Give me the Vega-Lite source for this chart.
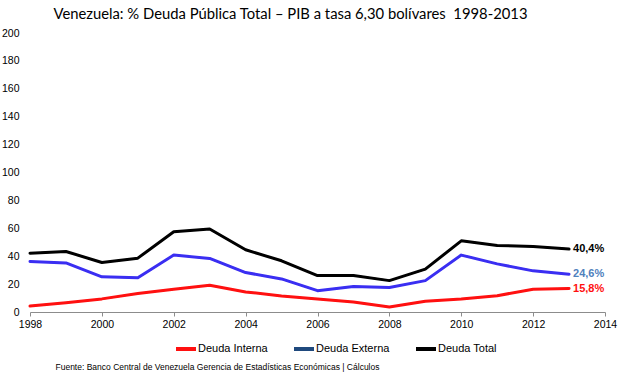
{
  "$schema": "https://vega.github.io/schema/vega-lite/v6.json",
  "autosize": "none",
  "width": 575,
  "height": 279,
  "padding": {"left": 30, "top": 33, "right": 24, "bottom": 66},
  "background": "white",
  "title": {
    "text": "Venezuela: % Deuda Pública Total – PIB a tasa 6,30 bolívares\u00a0 1998-2013",
    "font": "Lato",
    "fontSize": 14.8,
    "fontWeight": "normal",
    "color": "#000000",
    "anchor": "middle",
    "dx": -27,
    "offset": 6
  },
  "config": {
    "view": {"stroke": null},
    "font": "Liberation Sans"
  },
  "data": {
    "values": [
      {"anio": 1998, "serie": "Deuda Interna", "valor": 4.3},
      {"anio": 1999, "serie": "Deuda Interna", "valor": 6.7},
      {"anio": 2000, "serie": "Deuda Interna", "valor": 9.4},
      {"anio": 2001, "serie": "Deuda Interna", "valor": 13.2},
      {"anio": 2002, "serie": "Deuda Interna", "valor": 16.3},
      {"anio": 2003, "serie": "Deuda Interna", "valor": 19.2},
      {"anio": 2004, "serie": "Deuda Interna", "valor": 14.4},
      {"anio": 2005, "serie": "Deuda Interna", "valor": 11.5},
      {"anio": 2006, "serie": "Deuda Interna", "valor": 9.4},
      {"anio": 2007, "serie": "Deuda Interna", "valor": 7.2},
      {"anio": 2008, "serie": "Deuda Interna", "valor": 3.6},
      {"anio": 2009, "serie": "Deuda Interna", "valor": 7.7},
      {"anio": 2010, "serie": "Deuda Interna", "valor": 9.4},
      {"anio": 2011, "serie": "Deuda Interna", "valor": 11.7},
      {"anio": 2012, "serie": "Deuda Interna", "valor": 16.3},
      {"anio": 2013, "serie": "Deuda Interna", "valor": 16.8, "etiqueta": "15,8%"},
      {"anio": 1998, "serie": "Deuda Externa", "valor": 36.2},
      {"anio": 1999, "serie": "Deuda Externa", "valor": 35.2},
      {"anio": 2000, "serie": "Deuda Externa", "valor": 25.2},
      {"anio": 2001, "serie": "Deuda Externa", "valor": 24.5},
      {"anio": 2002, "serie": "Deuda Externa", "valor": 40.8},
      {"anio": 2003, "serie": "Deuda Externa", "valor": 38.4},
      {"anio": 2004, "serie": "Deuda Externa", "valor": 28.3},
      {"anio": 2005, "serie": "Deuda Externa", "valor": 23.7},
      {"anio": 2006, "serie": "Deuda Externa", "valor": 15.3},
      {"anio": 2007, "serie": "Deuda Externa", "valor": 18.2},
      {"anio": 2008, "serie": "Deuda Externa", "valor": 17.5},
      {"anio": 2009, "serie": "Deuda Externa", "valor": 22.5},
      {"anio": 2010, "serie": "Deuda Externa", "valor": 40.8},
      {"anio": 2011, "serie": "Deuda Externa", "valor": 34.5},
      {"anio": 2012, "serie": "Deuda Externa", "valor": 29.5},
      {"anio": 2013, "serie": "Deuda Externa", "valor": 27.1, "etiqueta": "24,6%"},
      {"anio": 1998, "serie": "Deuda Total", "valor": 42.2},
      {"anio": 1999, "serie": "Deuda Total", "valor": 43.4},
      {"anio": 2000, "serie": "Deuda Total", "valor": 35.5},
      {"anio": 2001, "serie": "Deuda Total", "valor": 38.6},
      {"anio": 2002, "serie": "Deuda Total", "valor": 57.5},
      {"anio": 2003, "serie": "Deuda Total", "valor": 59.5},
      {"anio": 2004, "serie": "Deuda Total", "valor": 44.6},
      {"anio": 2005, "serie": "Deuda Total", "valor": 36.7},
      {"anio": 2006, "serie": "Deuda Total", "valor": 26.1},
      {"anio": 2007, "serie": "Deuda Total", "valor": 26.1},
      {"anio": 2008, "serie": "Deuda Total", "valor": 22.5},
      {"anio": 2009, "serie": "Deuda Total", "valor": 30.7},
      {"anio": 2010, "serie": "Deuda Total", "valor": 51.0},
      {"anio": 2011, "serie": "Deuda Total", "valor": 47.7},
      {"anio": 2012, "serie": "Deuda Total", "valor": 47.0},
      {"anio": 2013, "serie": "Deuda Total", "valor": 45.1, "etiqueta": "40,4%"}
    ]
  },
  "encoding": {
    "x": {
      "field": "anio",
      "type": "quantitative",
      "scale": {"domain": [1998, 2014], "nice": false, "zero": false},
      "axis": {
        "values": [1998, 2000, 2002, 2004, 2006, 2008, 2010, 2012, 2014],
        "format": "d",
        "grid": false,
        "domainColor": "#8c8c8c",
        "tickColor": "#8c8c8c",
        "tickSize": 4,
        "labelFont": "Liberation Sans",
        "labelFontSize": 10.5,
        "labelColor": "#000000",
        "labelPadding": 3,
        "labelFlush": false,
        "title": "Fuente: Banco Central de Venezuela Gerencia de Estadísticas Económicas | Cálculos",
        "titleFont": "Liberation Sans",
        "titleFontSize": 8.5,
        "titleFontWeight": "normal",
        "titleColor": "#000000",
        "titleAnchor": "start",
        "titleAlign": "left",
        "titleBaseline": "middle",
        "titleX": 25,
        "titleY": 54
      }
    },
    "y": {
      "field": "valor",
      "type": "quantitative",
      "scale": {"domain": [0, 200], "nice": false},
      "axis": {
        "values": [0, 20, 40, 60, 80, 100, 120, 140, 160, 180, 200],
        "grid": false,
        "domain": false,
        "ticks": false,
        "labelFont": "Liberation Sans",
        "labelFontSize": 10.5,
        "labelColor": "#000000",
        "labelPadding": 11,
        "title": null
      }
    }
  },
  "layer": [
    {
      "mark": {"type": "line", "strokeWidth": 1.5, "strokeJoin": "round"},
      "encoding": {
        "color": {
          "field": "serie",
          "type": "nominal",
          "sort": ["Deuda Interna", "Deuda Externa", "Deuda Total"],
          "scale": {
            "domain": ["Deuda Interna", "Deuda Externa", "Deuda Total"],
            "range": ["#FF1010", "#1F497D", "#000000"]
          },
          "legend": {
            "title": null,
            "orient": "none",
            "direction": "horizontal",
            "legendX": 144,
            "legendY": 304,
            "symbolType": "stroke",
            "symbolStrokeWidth": 4,
            "symbolSize": 400,
            "labelFont": "Liberation Sans",
            "labelFontSize": 11,
            "labelColor": "#000000",
            "labelOffset": 0,
            "columnPadding": 18
          }
        }
      }
    },
    {
      "mark": {"type": "line", "strokeWidth": 3, "strokeJoin": "round", "strokeCap": "round"},
      "encoding": {
        "stroke": {
          "field": "serie",
          "type": "nominal",
          "scale": {
            "domain": ["Deuda Interna", "Deuda Externa", "Deuda Total"],
            "range": ["#FF1010", "#3A2EF2", "#000000"]
          },
          "legend": null
        }
      }
    },
    {
      "transform": [{"filter": "datum.etiqueta != null"}],
      "mark": {"type": "text", "align": "left", "baseline": "middle", "dx": 4, "font": "Liberation Sans", "fontSize": 11, "fontWeight": "bold"},
      "encoding": {
        "text": {"field": "etiqueta"},
        "fill": {
          "field": "serie",
          "type": "nominal",
          "scale": {
            "domain": ["Deuda Interna", "Deuda Externa", "Deuda Total"],
            "range": ["#FF1010", "#4F81BD", "#000000"]
          },
          "legend": null
        }
      }
    }
  ]
}
